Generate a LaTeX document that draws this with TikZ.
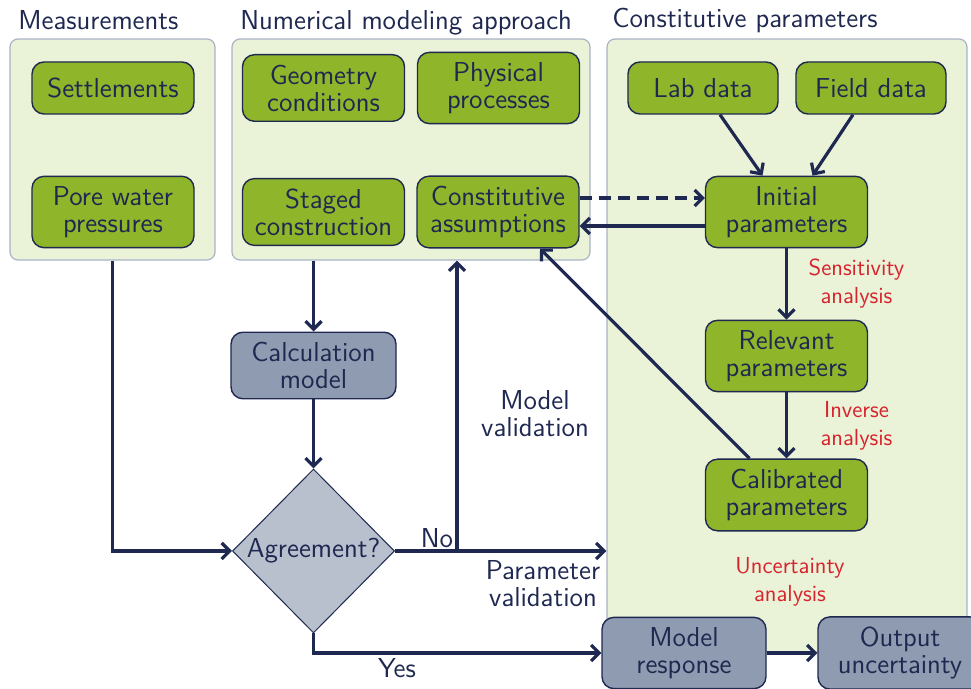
\documentclass[tikz,border=0pt]{standalone}
\usepackage{fontspec}
\usepackage{tikz}
\usetikzlibrary{shapes.geometric}
\usetikzlibrary{arrows.meta}
\definecolor{navy}{HTML}{1E2850}
\definecolor{leaf}{HTML}{8FB52B}
\definecolor{pale}{HTML}{EAF2D7}
\definecolor{rim}{HTML}{A9B4C6}
\definecolor{slate}{HTML}{8E9BB0}
\definecolor{mist}{HTML}{B8C0CE}
\definecolor{alert}{HTML}{D7232D}
\tikzset{
  group/.style={rounded corners=4pt, fill=pale, draw=rim, line width=0.6pt},
  item/.style={rounded corners=6pt, fill=leaf, draw=navy, line width=0.7pt, align=center,
    minimum width=81pt, minimum height=26pt, inner ysep=5pt, text=navy},
  calcbox/.style={item, fill=slate, minimum width=82.5pt},
  check/.style={diamond, fill=mist, draw=navy, line width=0.5pt, minimum width=81pt,
    minimum height=82pt, inner sep=0pt, text=navy},
  flow/.style={draw=navy, line width=1.6pt, -{Straight Barb[length=4pt,width=8pt]}},
  note/.style={text=alert, align=center, font=\sffamily\fontsize{11.6}{14}\selectfont},
  tag/.style={text=navy, align=center}
}
\newcommand{\headline}[1]{\textcolor{navy}{#1}}
\begin{document}
\begin{tikzpicture}[x=0.5pt,y=-0.5pt,font=\sffamily\fontsize{13.7}{13.5}\selectfont]
    \useasboundingbox (0,0) rectangle (971,689);
    % Groups
    \node[group, minimum width=102.5pt, minimum height=110.5pt] (meas) at (112.5,149.5) {};
    \node[group, minimum width=179pt, minimum height=110.5pt] (num) at (411,149.5) {};
    \node[group, minimum width=180pt, minimum height=306.5pt] (cpar) at (787,345.5) {};
    \node[anchor=base west, inner sep=0pt] (tmeas) at (18,30) {\headline{Measurements}};
    \node[anchor=base west, inner sep=0pt] (tnum) at (240,30) {\headline{Numerical modeling approach}};
    \node[anchor=base west, inner sep=0pt] (tcpar) at (612,28) {\headline{Constitutive parameters}};
    % Measurements
    \node[item] (sett) at (113,88) {Settlements};
    \node[item] (pore) at (113,212) {Pore water\\pressures};
    % Numerical modeling approach
    \node[item] (geom) at (323.5,88) {Geometry\\conditions};
    \node[item] (phys) at (498.5,88) {Physical\\processes};
    \node[item] (stag) at (323.5,212) {Staged\\construction};
    \node[item] (assum) at (498,212) {Constitutive\\assumptions};
    % Constitutive parameters
    \node[item, minimum width=75pt] (lab) at (703,88) {Lab data};
    \node[item, minimum width=75pt] (field) at (871,88) {Field data};
    \node[item] (init) at (786.5,212) {Initial\\parameters};
    \node[item] (rel) at (786.5,356) {Relevant\\parameters};
    \node[item] (cal) at (786.5,495) {Calibrated\\parameters};
    \node[note] (unote) at (790,582) {Uncertainty\\analysis};
    % Calculation and check
    \node[calcbox] (calc) at (313.5,365.5) {Calculation\\model};
    \node[check] (agree) at (313.5,551) {Agreement?};
    \node[calcbox, minimum width=82pt, minimum height=35pt] (resp) at (684,653) {Model\\response};
    \node[calcbox, minimum width=82pt, minimum height=35pt] (unc) at (900,653) {Output\\uncertainty};
    \coordinate (mv) at (457,551);
    % Flow edges
    \draw[flow] (meas.south) |- (agree.west);
    \draw[flow] (calc |- num.south) -- (calc.north);
    \draw[flow] (calc.south) -- (agree.north);
    \draw[flow] (agree.east) -- (agree.east -| cpar.west);
    \draw[flow] (mv) -- (mv |- num.south);
    \draw[flow] (agree.south) |- (resp.west);
    \draw[flow] (resp.east) -- (unc.west);
    \node[tag] (no) at (437,538) {No};
    \node[tag] (pval) at (543,584) {Parameter\\validation};
    \node[tag] (mval) at (535,414) {Model\\validation};
    \node[tag] (yes) at (397,668) {Yes};
    % Parameter edges
    \draw[flow, dash pattern=on 6pt off 3.5pt] ([yshift=7pt]assum.east) -- ([yshift=7pt]assum.east -| init.west);
    \draw[flow] ([yshift=-7pt]init.west) -- ([yshift=-7pt]init.west -| assum.east);
    \draw[flow] ([xshift=8.5pt]lab.south) -- ([xshift=-12pt]init.north);
    \draw[flow] ([xshift=-9pt]field.south) -- ([xshift=13pt]init.north);
    \draw[flow] (init) -- node[note, xshift=35pt] {Sensitivity\\analysis} (rel);
    \draw[flow] (rel) -- node[note, xshift=35pt] {Inverse\\analysis} (cal);
    \draw[flow] ([xshift=-18.5pt]cal.north) -- ([xshift=21pt]assum.south);
\end{tikzpicture}
\end{document}
